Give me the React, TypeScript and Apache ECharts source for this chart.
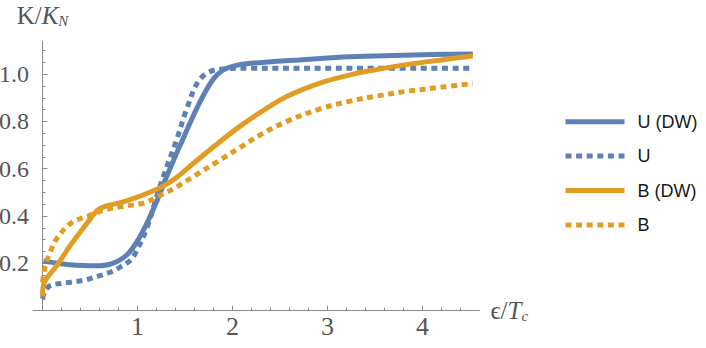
import React, { useEffect, useRef } from 'react';
import * as echarts from 'echarts';

// ---- data (x = ϵ/T_c, y = K/K_N) ----
const seriesNames = ['U (DW)', 'U', 'B (DW)', 'B'];

const uDW: number[][] = [
  [0.01, 0.21], [0.1, 0.204], [0.2, 0.198], [0.35, 0.192], [0.5, 0.19], [0.6, 0.19],
  [0.7, 0.195], [0.8, 0.21], [0.9, 0.24], [1.0, 0.295], [1.1, 0.37], [1.2, 0.46],
  [1.3, 0.56], [1.4, 0.655], [1.5, 0.745], [1.6, 0.835], [1.7, 0.915], [1.8, 0.98],
  [1.9, 1.017], [2.05, 1.038], [2.2, 1.046], [2.4, 1.052], [2.7, 1.06], [3.0, 1.068],
  [3.3, 1.074], [3.7, 1.079], [4.1, 1.083], [4.53, 1.085],
];

const uPlain: number[][] = [
  [0.0, 0.05], [0.03, 0.085], [0.09, 0.108], [0.2, 0.115], [0.3, 0.12], [0.45, 0.13],
  [0.58, 0.145], [0.7, 0.16], [0.8, 0.18], [0.93, 0.215], [1.0, 0.26], [1.1, 0.35],
  [1.2, 0.48], [1.3, 0.6], [1.41, 0.72], [1.52, 0.855], [1.64, 0.97], [1.76, 1.01],
  [1.9, 1.022], [2.2, 1.025], [3.0, 1.025], [4.53, 1.025],
];

const bDW: number[][] = [
  [0.0, 0.06], [0.02, 0.12], [0.15, 0.19], [0.3, 0.28], [0.45, 0.36], [0.58, 0.425],
  [0.65, 0.44], [0.83, 0.458], [1.0, 0.48], [1.11, 0.497], [1.24, 0.52], [1.4, 0.56],
  [1.58, 0.62], [1.87, 0.715], [2.08, 0.78], [2.3, 0.84], [2.57, 0.905], [2.92, 0.962],
  [3.24, 0.997], [3.5, 1.018], [3.83, 1.04], [4.2, 1.06], [4.53, 1.077],
];

const bPlain: number[][] = [
  [0.0, 0.12], [0.03, 0.19], [0.09, 0.256], [0.16, 0.31], [0.3, 0.37], [0.48, 0.4],
  [0.65, 0.425], [0.83, 0.44], [1.07, 0.455], [1.24, 0.488], [1.4, 0.52], [1.58, 0.565],
  [1.87, 0.637], [2.08, 0.69], [2.3, 0.745], [2.57, 0.8], [2.92, 0.853], [3.24, 0.886],
  [3.5, 0.906], [3.83, 0.927], [4.2, 0.945], [4.53, 0.96],
];

const xMajorTicks = [1, 2, 3, 4];
const xMinorTicks = [0.2, 0.4, 0.6, 0.8, 1.2, 1.4, 1.6, 1.8, 2.2, 2.4, 2.6, 2.8, 3.2, 3.4, 3.6, 3.8, 4.2, 4.4];
const yMajorTicks = [0.2, 0.4, 0.6, 0.8, 1.0];
const yMinorTicks = [0.05, 0.1, 0.15, 0.25, 0.3, 0.35, 0.45, 0.5, 0.55, 0.65, 0.7, 0.75, 0.85, 0.9, 0.95, 1.05, 1.1];

const BLUE = '#5E81B5';
const ORANGE = '#E19C24';
const AXIS = '#8a8a8a';
const LABEL = '#555555';
const SERIF = '"Liberation Serif", "Times New Roman", "DejaVu Serif", serif';
const SANS = '"Liberation Sans", Arial, Helvetica, sans-serif';

const nameRich = {
  r: { fontFamily: SERIF, fontSize: 25, lineHeight: 25, color: LABEL },
  i: { fontFamily: SERIF, fontStyle: 'italic', fontSize: 25, lineHeight: 25, color: LABEL },
  s: { fontFamily: SERIF, fontStyle: 'italic', fontSize: 15, lineHeight: 13, verticalAlign: 'bottom', color: LABEL },
};

export default function App() {
  const ref = useRef<HTMLDivElement>(null);
  useEffect(() => {
    if (!ref.current) return;
    const chart = echarts.init(ref.current, null, { renderer: 'svg' });
    const dash = [6, 4.6];
    const mk = (name: string, data: number[][], color: string, dotted: boolean) => ({
      name,
      type: 'line',
      data,
      smooth: 0.35,
      symbol: 'none',
      xAxisIndex: 0,
      yAxisIndex: 0,
      itemStyle: { color },
      lineStyle: { color, width: 5, type: dotted ? dash : 'solid', cap: 'butt' },
    });
    chart.setOption({
      animation: false,
      grid: { left: 33, top: 41, width: 446.5, height: 269.6, containLabel: false, outerBoundsMode: 'none' },
      xAxis: [
        {
          type: 'value', min: -0.1, max: 4.6, position: 'bottom',
          axisLine: { show: true, onZero: true, onZeroAxisIndex: 0, lineStyle: { color: AXIS, width: 1 } },
          axisTick: { show: true, inside: true, length: 5, customValues: xMajorTicks, lineStyle: { color: AXIS } },
          axisLabel: {
            customValues: xMajorTicks, formatter: (v: number) => String(v),
            fontFamily: SERIF, fontSize: 26, color: LABEL, margin: 3,
          },
          splitLine: { show: false },
          name: '{r|ϵ/}{i|T}{s|c}', nameLocation: 'end', nameGap: 11,
          nameTextStyle: { rich: nameRich },
        },
        {
          type: 'value', min: -0.1, max: 4.6, position: 'bottom',
          axisLine: { show: true, onZero: true, onZeroAxisIndex: 1, lineStyle: { opacity: 0 } },
          axisTick: { show: true, inside: true, length: 3, customValues: xMinorTicks, lineStyle: { color: AXIS } },
          axisLabel: { show: false },
          splitLine: { show: false },
        },
      ],
      yAxis: [
        {
          type: 'value', min: 0, max: 1.14, position: 'left',
          axisLine: { show: true, onZero: true, onZeroAxisIndex: 0, lineStyle: { color: AXIS, width: 1 } },
          axisTick: { show: true, inside: true, length: 5, customValues: yMajorTicks, lineStyle: { color: AXIS } },
          axisLabel: {
            customValues: yMajorTicks, formatter: (v: number) => v.toFixed(1),
            fontFamily: SERIF, fontSize: 24, color: LABEL, margin: 4,
          },
          splitLine: { show: false },
          name: '{r|K/}{i|K}{s|N}', nameLocation: 'end', nameGap: 13,
          nameTextStyle: { rich: nameRich },
        },
        {
          type: 'value', min: 0, max: 1.14, position: 'left',
          axisLine: { show: true, onZero: true, onZeroAxisIndex: 1, lineStyle: { opacity: 0 } },
          axisTick: { show: true, inside: true, length: 3, customValues: yMinorTicks, lineStyle: { color: AXIS } },
          axisLabel: { show: false },
          splitLine: { show: false },
        },
      ],
      legend: {
        orient: 'vertical', left: 563, top: 111.7, padding: 0,
        itemWidth: 59, itemHeight: 14, itemGap: 14.4,
        data: seriesNames,
        selectedMode: false,
        itemStyle: { opacity: 0 },
        lineStyle: { width: 5 },
        textStyle: { fontFamily: SANS, fontSize: 18, lineHeight: 20, color: '#1a1a1a', padding: [0, 0, 0, 8] },
      },
      series: [
        mk(seriesNames[0], uDW, BLUE, false),
        mk(seriesNames[1], uPlain, BLUE, true),
        mk(seriesNames[2], bDW, ORANGE, false),
        mk(seriesNames[3], bPlain, ORANGE, true),
      ],
    });
    return () => chart.dispose();
  }, []);
  return (
    <div
      ref={ref}
      style={{ position: 'fixed', left: 0, top: 0, width: 706, height: 348, background: '#fff' }}
    />
  );
}
